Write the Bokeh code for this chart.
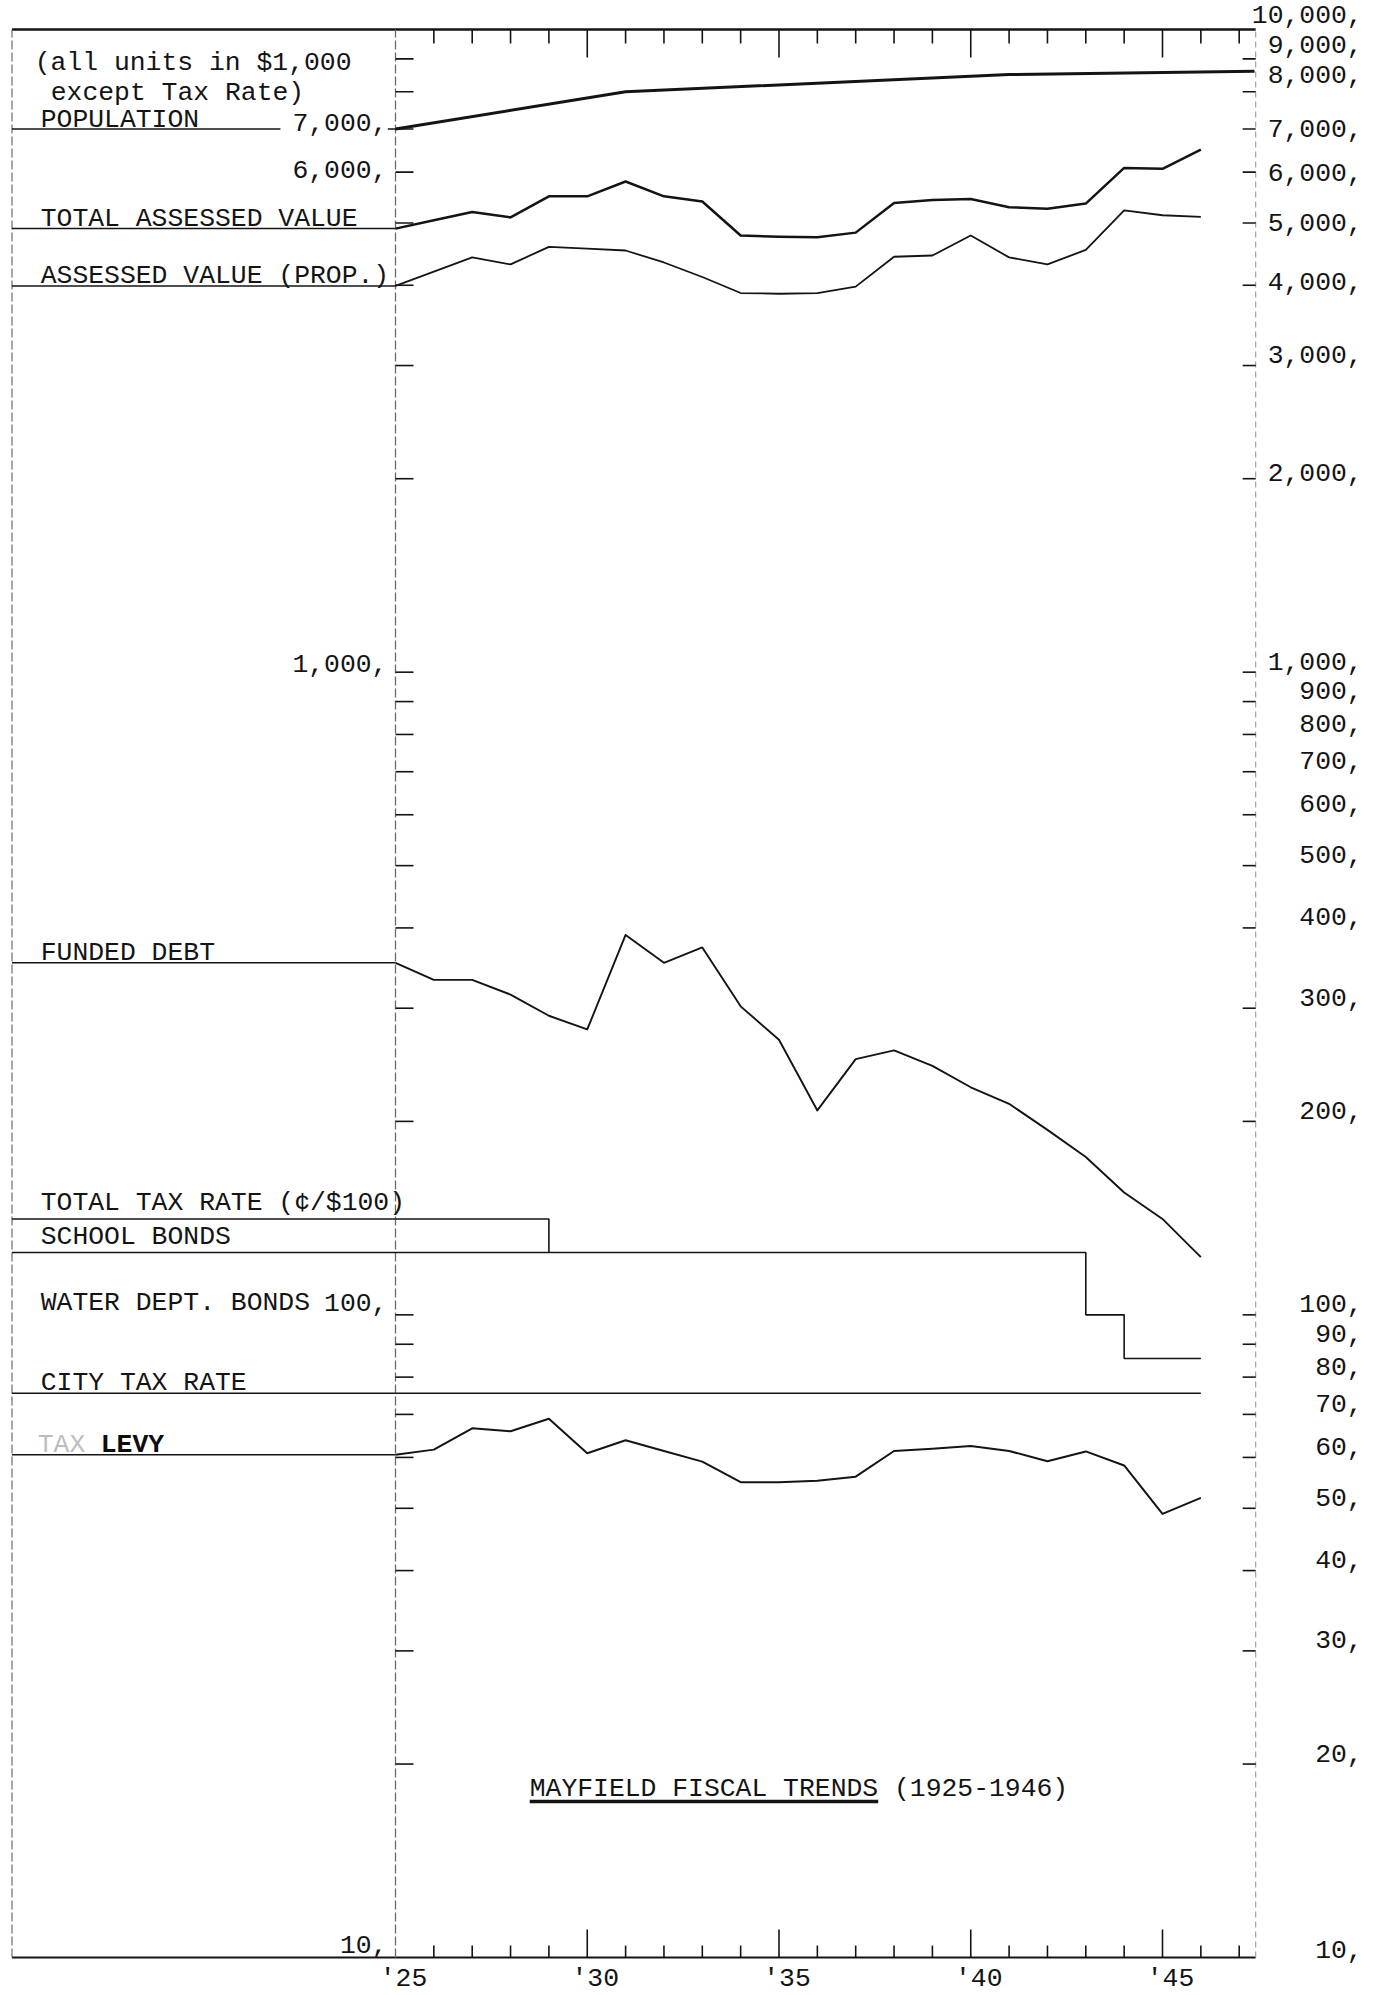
import math

from bokeh.core.properties import value
from bokeh.embed import file_html
from bokeh.models import Range1d
from bokeh.plotting import figure
from bokeh.resources import INLINE

# ---------------------------------------------------------------------------
# Mayfield fiscal trends, 1925-1946 (all units in $1,000 except tax rate)
# ---------------------------------------------------------------------------
years = list(range(1925, 1947))

total_assessed_value = [4900, 5050, 5200, 5100, 5500, 5500, 5800, 5500, 5400, 4780, 4760,
                        4750, 4830, 5370, 5430, 5450, 5290, 5260, 5360, 6090, 6070, 6500]
assessed_value_prop = [3990, 4200, 4420, 4310, 4590, 4560, 4530, 4340, 4120, 3890, 3880,
                       3890, 3980, 4430, 4450, 4780, 4420, 4310, 4540, 5230, 5140, 5110]
funded_debt = [353, 332, 332, 315, 292, 278, 390, 353, 373, 302, 268,
               208, 250, 258, 244, 226, 213, 194, 176, 155, 141, 123]
tax_levy = [60.6, 61.7, 66.6, 65.9, 68.9, 60.9, 63.8, 61.4, 59.1, 54.9, 54.9,
            55.2, 56.0, 61.4, 61.9, 62.5, 61.4, 59.2, 61.3, 58.3, 49.0, 51.9]

population_years = [1925, 1931, 1941, 1947.4]
population = [7000, 8000, 8510, 8610]

# total tax rate (cents per $100) changes only in a few years
tax_rate_years = [1925, 1929, 1943, 1944, 1946]
total_tax_rate = [141, 125, 100, 85.5, 85.5]
school_bonds_rate = 125
school_bonds_until = 1929
city_tax_rate_years = [1925, 1946]
city_tax_rate = [75.5, 75.5]

# scale ticks and their typed labels
scale_ticks = [20, 30, 40, 50, 60, 70, 80, 90,
               100, 200, 300, 400, 500, 600, 700, 800, 900,
               1000, 2000, 3000, 4000, 5000, 6000, 7000, 8000, 9000]
right_label_values = [10000, 9000, 8000, 7000, 6000, 5000, 4000, 3000, 2000,
                      1000, 900, 800, 700, 600, 500, 400, 300, 200,
                      100, 90, 80, 70, 60, 50, 40, 30, 20, 10]
left_label_values = [7000, 6000, 1000, 100, 10]
year_ticks = list(range(1926, 1948))
year_label_years = [1925, 1930, 1935, 1940, 1945]
year_label_text = ["'25", "'30", "'35", "'40", "'45"]

# ---------------------------------------------------------------------------
# page geometry
# ---------------------------------------------------------------------------
W, H = 1374, 1995
PX_PER_YEAR = 38.35
X_1925_PX = 395
DECADE_PX = 642.67
TOP_PX = 29

X_LO = 1925 - X_1925_PX / PX_PER_YEAR
X_HI = X_LO + W / PX_PER_YEAR
Y_HI = 10 ** (4 + TOP_PX / DECADE_PX)
Y_LO = 10 ** (4 - (H - TOP_PX) / DECADE_PX)

LEFT_EDGE = 1915.0
RIGHT_EDGE = 1947.43
LABEL_X = 1915.75
LEFT_NUM_X = 1924.79
RIGHT_NUM_X = 1950.22
TOP_V, BOTTOM_V = 10000, 10

INK = "#141414"
FAINT = "#6a6a6a"
FONT = value("Liberation Mono")
FS = "26.4px"
LIFT = -9  # puts the typed baseline onto its rule


def lift(v, px):
    """Move a value on the log scale up by px screen pixels."""
    return v * 10 ** (px / DECADE_PX)


def typed(**kw):
    base = dict(text_font=FONT, text_font_size=FS, text_color=INK,
                text_baseline="alphabetic", text_align="left")
    base.update(kw)
    return base


p = figure(width=W, height=H, x_range=Range1d(X_LO, X_HI), y_range=Range1d(Y_LO, Y_HI),
           y_axis_type="log", x_axis_location=None, y_axis_location=None,
           output_backend="svg", toolbar_location=None, min_border=0)
p.grid.visible = False
p.outline_line_color = None
p.background_fill_color = "white"
p.border_fill_color = "white"

# ---- frame: top & bottom rules, dashed verticals -------------------------
p.segment(x0=[LEFT_EDGE], y0=[TOP_V], x1=[RIGHT_EDGE], y1=[TOP_V], line_color=INK, line_width=2.4)
p.segment(x0=[LEFT_EDGE], y0=[BOTTOM_V], x1=[RIGHT_EDGE], y1=[BOTTOM_V], line_color=INK, line_width=2.2)
p.segment(x0=[LEFT_EDGE], y0=[BOTTOM_V], x1=[LEFT_EDGE], y1=[TOP_V],
          line_color=FAINT, line_width=1.2, line_dash="9 3")
p.segment(x0=[1925], y0=[BOTTOM_V], x1=[1925], y1=[TOP_V],
          line_color=FAINT, line_width=1.3, line_dash="9 3")
p.segment(x0=[RIGHT_EDGE], y0=[BOTTOM_V], x1=[RIGHT_EDGE], y1=[TOP_V],
          line_color="#9a9a9a", line_width=1.1, line_dash="6 4")

# ---- year ticks, top and bottom --------------------------------------------
top_len = [28 if y % 5 == 0 else 14 for y in year_ticks]
bot_len = [28 if y % 5 == 0 else 12 for y in year_ticks]
p.ray(x=year_ticks, y=[TOP_V] * len(year_ticks), length=top_len, length_units="screen",
      angle=-math.pi / 2, line_color=INK, line_width=1.6)
p.ray(x=year_ticks, y=[BOTTOM_V] * len(year_ticks), length=bot_len, length_units="screen",
      angle=math.pi / 2, line_color=INK, line_width=1.6)

# ---- scale ticks on both verticals ---------------------------------------
p.ray(x=[1925] * len(scale_ticks), y=scale_ticks, length=18, length_units="screen",
      angle=0, line_color=INK, line_width=1.6)
p.ray(x=[RIGHT_EDGE] * len(scale_ticks), y=scale_ticks, length=13, length_units="screen",
      angle=math.pi, line_color=INK, line_width=1.6)

# ---- scale numbers -----------------------------------------------------------
right_nudge = {10000: -6, 9000: -5, 8000: -8, 7000: 8, 6000: 9, 5000: 9, 4000: 5, 2000: 3, 10: 1}
p.text(x=[RIGHT_NUM_X] * len(right_label_values), y=right_label_values,
       text=[f"{v:,}," for v in right_label_values],
       y_offset=[right_nudge.get(v, -2) + LIFT for v in right_label_values],
       **typed(text_align="right"))

left_nudge = {7000: 2, 6000: 6, 1000: 0, 100: -3, 10: -4}
p.text(x=[LEFT_NUM_X] * len(left_label_values), y=left_label_values,
       text=[f"{v:,}," for v in left_label_values],
       y_offset=[left_nudge[v] + LIFT for v in left_label_values],
       **typed(text_align="right"))

p.text(x=year_label_years, y=[BOTTOM_V] * len(year_label_years), text=year_label_text,
       x_offset=8, y_offset=21, **typed(text_align="center"))

# ---- guide lines running from the left margin to each series' 1925 value --
guide_levels = [total_assessed_value[0], assessed_value_prop[0], funded_debt[0],
                total_tax_rate[0], city_tax_rate[0], tax_levy[0]]
p.segment(x0=[LEFT_EDGE] * len(guide_levels), y0=guide_levels,
          x1=[1925] * len(guide_levels), y1=guide_levels, line_color=INK, line_width=1.5)
p.segment(x0=[LEFT_EDGE], y0=[school_bonds_rate], x1=[school_bonds_until], y1=[school_bonds_rate],
          line_color=INK, line_width=1.5)
p.segment(x0=[LEFT_EDGE, 1924.8], y0=[population[0]] * 2, x1=[1922.0, 1925],
          y1=[population[0]] * 2, line_color=INK, line_width=1.6)

# ---- series -------------------------------------------------------------------
p.line(population_years, population, line_color=INK, line_width=3.0, line_join="round")
p.line(years, total_assessed_value, line_color=INK, line_width=2.5, line_join="round")
p.line(years, assessed_value_prop, line_color=INK, line_width=1.8, line_join="round")
p.line(years, funded_debt, line_color=INK, line_width=1.9, line_join="round")
p.step(tax_rate_years, total_tax_rate, mode="after", line_color=INK, line_width=1.6)
p.line(city_tax_rate_years, city_tax_rate, line_color=INK, line_width=1.6)
p.line(years, tax_levy, line_color=INK, line_width=2.0, line_join="round")

# ---- series names, typed on their guide lines ----------------------------
names = ["TOTAL ASSESSED VALUE", "ASSESSED VALUE (PROP.)", "FUNDED DEBT",
         "TOTAL TAX RATE (\u00a2/$100)", "SCHOOL BONDS", "WATER DEPT. BONDS", "CITY TAX RATE"]
name_levels = [total_assessed_value[0], assessed_value_prop[0], funded_debt[0],
               total_tax_rate[0], school_bonds_rate, 100, city_tax_rate[0]]
name_shift = [-1, -1, -1, -7, -7, -3, -1]
p.text(x=[LABEL_X] * len(names), y=name_levels, text=names,
       y_offset=[s + LIFT for s in name_shift], **typed())
p.text(x=[LABEL_X], y=[population[0]], text=["POPULATION"], y_offset=LIFT, **typed())
p.text(x=[LABEL_X], y=[tax_levy[0]], text=["TAX"], y_offset=LIFT - 1, x_offset=-3,
       **typed(text_color="#bdbdbd"))
p.text(x=[LABEL_X], y=[tax_levy[0]], text=["LEVY"], y_offset=LIFT - 1, x_offset=60,
       **typed(text_color="#0d0d0d", text_font_style="bold"))

# units note in the upper-left corner
p.text(x=[LABEL_X, LABEL_X], y=[TOP_V, TOP_V], text=["(all units in $1,000", "except Tax Rate)"],
       x_offset=[-6, 10], y_offset=[42 + LIFT, 72 + LIFT], **typed())

# ---- title -----------------------------------------------------------------------
TITLE_X = 1928.5
title_main = "MAYFIELD FISCAL TRENDS"
p.text(x=[TITLE_X], y=[BOTTOM_V], text=[title_main + " (1925-1946)"], y_offset=-160 + LIFT,
       **typed())
underline_y = lift(BOTTOM_V, 156)
p.segment(x0=[TITLE_X], y0=[underline_y],
          x1=[TITLE_X + len(title_main) * 15.84 / PX_PER_YEAR], y1=[underline_y],
          line_color=INK, line_width=3.5)

open("out.html", "w").write(file_html(p, INLINE))
